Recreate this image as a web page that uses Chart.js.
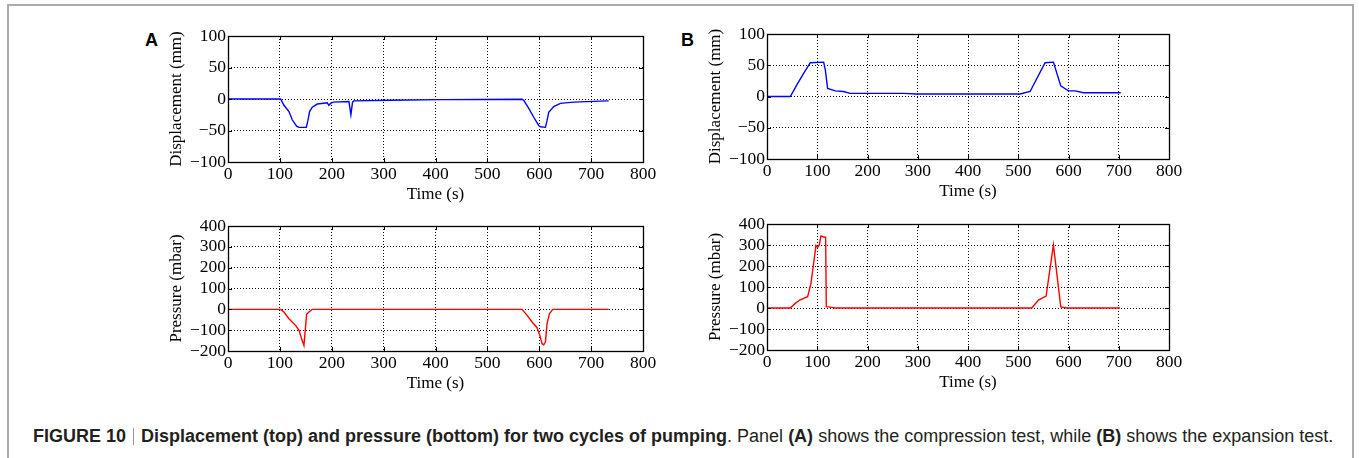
<!DOCTYPE html>
<html>
<head>
<meta charset="utf-8">
<script src="https://cdn.jsdelivr.net/npm/chart.js@4/dist/chart.umd.min.js"></script>
<style>
  html, body { margin: 0; padding: 0; background: #fff; }
  body { width: 1359px; height: 458px; position: relative; overflow: hidden; }
  #frame { position: absolute; left: 7px; top: 4px; width: 1343px; height: 470px;
           border: 2px solid #ababab; border-bottom: none; }
  canvas { position: absolute; }
  .plab { position: absolute; font-family: "Liberation Sans", Arial, sans-serif; font-weight: bold;
          font-size: 18px; color: #000; line-height: 1; }
  #cap { position: absolute; left: 33px; top: 427px; white-space: nowrap;
         font-family: "Liberation Sans", Arial, sans-serif; font-size: 15px; color: #231f20; line-height: 1; }
  #cap .bar { display: inline-block; width: 0; height: 17px; border-left: 1px solid #9a9a9a;
              margin: 0 7px 0 7px; vertical-align: -3px; }
</style>
</head>
<body>
<div id="frame"></div>
<div class="plab" style="left:145px; top:31px;">A</div>
<div class="plab" style="left:681px; top:31px;">B</div>
<canvas id="aTop" width="513" height="185" style="left:150px; top:20px; width:513px; height:185px;"></canvas>
<canvas id="aBot" width="513" height="184" style="left:150px; top:210px; width:513px; height:184px;"></canvas>
<canvas id="bTop" width="500" height="184" style="left:689px; top:18px; width:500px; height:184px;"></canvas>
<canvas id="bBot" width="500" height="185" style="left:689px; top:208px; width:500px; height:185px;"></canvas>
<div id="cap"><b>FIGURE 10</b><span class="bar"></span><b>Displacement (top) and pressure (bottom) for two cycles of pumping</b>. Panel <b>(A)</b> shows the compression test, while <b>(B)</b> shows the expansion test.</div>
<script>
// ---- Data ----
// Panel A: compression test
const timeDispA = [0, 101.4, 107.9, 117.5, 123.9, 132.3, 136.8, 150.9, 154.1, 157.3, 162.4, 172.1, 191.3, 194.5, 197.8, 202.9, 233.1, 236.9, 240.1, 242.7, 313.3, 409.6, 566.9, 570.1, 579.8, 589.4, 599.0, 602.2, 611.9, 615.1, 618.3, 627.9, 640.8, 666.5, 730.7, 733.9];
const dispA     = [0, 0, -10, -20, -33, -43, -45, -45, -34, -20, -13, -8, -6, -10, -7, -5, -4, -25, -5, -3, -2, -1, -0.5, -2, -15, -29, -42, -44, -45, -34, -21, -12, -7, -5, -3, -3];
const timePresA = [0, 101.4, 107.9, 117.5, 130.3, 136.8, 141.9, 146.4, 151.5, 156.0, 162.4, 566.9, 576.6, 586.2, 595.8, 601.0, 605.5, 608.7, 611.9, 615.1, 619.6, 626.0, 733.9];
const presA     = [0, 0, -13, -45, -77, -101, -141, -173, -24, -13, 0, 0, -29, -61, -88, -125, -165, -170, -157, -69, -21, 0, 0];
// Panel B: expansion test
const timeDispB = [0, 46.4, 59.7, 72.9, 86.2, 112.7, 116.0, 120.6, 135.9, 152.4, 165.7, 271.7, 298.0, 503.7, 523.6, 553.4, 570.0, 584.6, 599.8, 613.1, 629.7, 703.9];
const dispB     = [0, 0, 19, 37, 54, 55, 43, 13, 9, 8, 5, 5, 4, 4, 8, 54, 55, 17, 9, 9, 6, 6];
const timePresB = [0, 46.4, 56.3, 65.0, 80.9, 87.5, 92.8, 97.4, 100.7, 104.1, 107.4, 114.0, 116.7, 118.0, 129.2, 135.9, 526.9, 540.2, 555.4, 570.0, 584.6, 596.5, 702.6];
const presB     = [0, 0, 22, 38, 54, 117, 213, 297, 289, 300, 343, 337, 337, 6, 3, 0, 0, 38, 57, 300, 5, 0, 0];
// Axis ticks
const timeTicks = [0, 100, 200, 300, 400, 500, 600, 700, 800];
const dispTicks = [-100, -50, 0, 50, 100];
const presTicks = [-200, -100, 0, 100, 200, 300, 400];

const SERIF = '"Liberation Serif", "Times New Roman", serif';

const framePlugin = {
  id: 'mplFrame',
  afterDraw(chart) {
    const ctx = chart.ctx;
    const a = chart.chartArea;
    const xs = chart.scales.x, ys = chart.scales.y;
    ctx.save();
    ctx.strokeStyle = '#000';
    ctx.lineWidth = 1;
    ctx.beginPath();
    xs.ticks.forEach(t => {
      const p = Math.round(xs.getPixelForValue(t.value)) + 0.5;
      ctx.moveTo(p, a.bottom); ctx.lineTo(p, a.bottom - 4);
      ctx.moveTo(p, a.top); ctx.lineTo(p, a.top + 4);
    });
    ys.ticks.forEach(t => {
      const p = Math.round(ys.getPixelForValue(t.value)) + 0.5;
      ctx.moveTo(a.left, p); ctx.lineTo(a.left + 4, p);
      ctx.moveTo(a.right, p); ctx.lineTo(a.right - 4, p);
    });
    ctx.stroke();
    ctx.lineWidth = 1.3;
    ctx.strokeRect(Math.round(a.left) + 0.5, Math.round(a.top) + 0.5,
                   Math.round(a.right - a.left), Math.round(a.bottom - a.top));
    ctx.restore();
  }
};

function pts(xs, ys) { return xs.map((x, i) => ({ x: x, y: ys[i] })); }
function fmt(v) { return String(v).replace('-', '\u2212'); }

function makeChart(id, xs, ys, color, yTicks, yTitle) {
  const tickFont = { family: SERIF, size: 17.5 };
  const titleFont = { family: SERIF, size: 17 };
  new Chart(document.getElementById(id), {
    type: 'line',
    data: { datasets: [{ data: pts(xs, ys), borderColor: color, borderWidth: 1.4,
                         pointRadius: 0, tension: 0, fill: false }] },
    options: {
      responsive: false, animation: false, devicePixelRatio: 1,
      layout: { padding: { top: 16, right: 20, bottom: 0, left: 0 } },
      plugins: { legend: { display: false }, tooltip: { enabled: false } },
      scales: {
        x: {
          type: 'linear', min: timeTicks[0], max: timeTicks[timeTicks.length - 1],
          afterBuildTicks: s => { s.ticks = timeTicks.map(v => ({ value: v })); },
          afterFit: s => { s.height = 43; },
          ticks: { font: tickFont, color: '#000', padding: 1.5, maxRotation: 0, autoSkip: false, callback: fmt },
          grid: { color: '#000', lineWidth: 1, drawTicks: false },
          border: { display: false, dash: [1, 2] },
          title: { display: true, text: 'Time (s)', font: titleFont, color: '#000',
                   padding: { top: 0, bottom: 0 } }
        },
        y: {
          type: 'linear', min: yTicks[0], max: yTicks[yTicks.length - 1],
          afterBuildTicks: s => { s.ticks = yTicks.map(v => ({ value: v })); },
          afterFit: s => { s.width = 78; },
          ticks: { font: tickFont, color: '#000', padding: 2, autoSkip: false, callback: fmt },
          grid: { color: '#000', lineWidth: 1, drawTicks: false },
          border: { display: false, dash: [1, 2] },
          title: { display: true, text: yTitle, font: titleFont, color: '#000',
                   padding: { top: 16.8, bottom: 0 } }
        }
      }
    },
    plugins: [framePlugin]
  });
}

makeChart('aTop', timeDispA, dispA, '#0000ff', dispTicks, 'Displacement (mm)');
makeChart('aBot', timePresA, presA, '#ff0000', presTicks, 'Pressure (mbar)');
makeChart('bTop', timeDispB, dispB, '#0000ff', dispTicks, 'Displacement (mm)');
makeChart('bBot', timePresB, presB, '#ff0000', presTicks, 'Pressure (mbar)');

// fit caption to its width in the reference (x 33 .. 1337)
(function () {
  const cap = document.getElementById('cap');
  const w = cap.getBoundingClientRect().width;
  const target = 1304;
  const fs = 15 * target / w;
  cap.style.fontSize = fs.toFixed(2) + 'px';
})();
</script>
</body>
</html>
